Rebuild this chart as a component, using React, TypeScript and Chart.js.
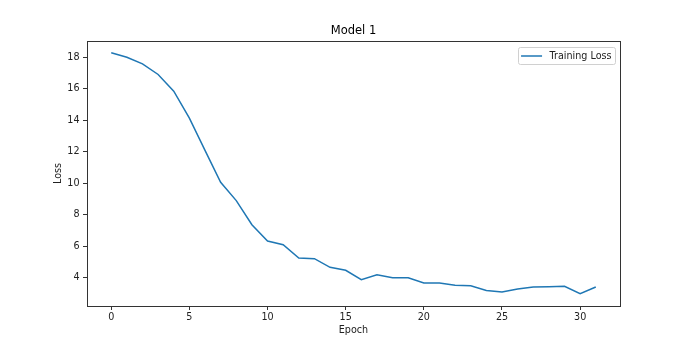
import React, { useEffect, useRef } from "react";
import { Chart, registerables } from "chart.js";

Chart.register(...registerables);

const epochs: number[] = Array.from({ length: 32 }, (_, i) => i);
const trainingLoss: number[] = [
  18.3, 18.02, 17.6, 16.92, 15.86, 14.15, 12.1, 10.07, 8.9, 7.37,
  6.33, 6.1, 5.25, 5.21, 4.66, 4.47, 3.87, 4.19, 4.0, 4.0,
  3.66, 3.66, 3.52, 3.49, 3.19, 3.09, 3.28, 3.41, 3.43, 3.45,
  2.98, 3.41,
];
const xTickValues: number[] = [0, 5, 10, 15, 20, 25, 30];
const yTickValues: number[] = [4, 6, 8, 10, 12, 14, 16, 18];
const seriesLabel = "Training Loss";
const chartTitle = "Model 1";
const xLabel = "Epoch";
const yLabel = "Loss";

const FONT = "'DejaVu Sans', sans-serif";
const LINE_COLOR = "#1f77b4";
const FS = 9.6;

const framePlugin = {
  id: "frame",
  afterDatasetsDraw(chart: any) {
    const { ctx, chartArea } = chart;
    ctx.save();
    ctx.strokeStyle = "#333";
    ctx.lineWidth = 1;
    ctx.strokeRect(
      Math.round(chartArea.left) + 0.5,
      Math.round(chartArea.top) + 0.5,
      Math.round(chartArea.right - chartArea.left),
      Math.round(chartArea.bottom - chartArea.top)
    );
    ctx.restore();
  },
};

const legendPlugin = {
  id: "mplLegend",
  afterDraw(chart: any) {
    const { ctx, chartArea } = chart;
    ctx.save();
    ctx.font = `${FS}px ${FONT}`;
    const textW = ctx.measureText(seriesLabel).width;
    const w = 3 + 21 + 7.5 + textW + 3.5;
    const h = 17;
    const x = chartArea.right - 5 - w;
    const y = chartArea.top + 5.5;
    ctx.fillStyle = "rgba(255,255,255,0.8)";
    ctx.strokeStyle = "#d0d0d0";
    ctx.lineWidth = 1;
    ctx.beginPath();
    (ctx as any).roundRect(Math.round(x) + 0.5, Math.round(y) + 0.5, Math.round(w), h, 2);
    ctx.fill();
    ctx.stroke();
    const cy = Math.round(y) + 0.5 + h / 2;
    ctx.strokeStyle = LINE_COLOR;
    ctx.lineWidth = 1.5;
    ctx.beginPath();
    ctx.moveTo(x + 3, cy);
    ctx.lineTo(x + 3 + 21, cy);
    ctx.stroke();
    ctx.fillStyle = "#222";
    ctx.textBaseline = "middle";
    ctx.textAlign = "left";
    ctx.fillText(seriesLabel, x + 3 + 21 + 7.5, cy);
    ctx.restore();
  },
};

export default function App() {
  const canvasRef = useRef<HTMLCanvasElement | null>(null);

  useEffect(() => {
    document.body.style.margin = "0";
    const canvas = canvasRef.current;
    if (!canvas) return;
    const chart = new Chart(canvas, {
      type: "line",
      data: {
        datasets: [
          {
            label: seriesLabel,
            data: epochs.map((e, i) => ({ x: e, y: trainingLoss[i] })),
            borderColor: LINE_COLOR,
            backgroundColor: LINE_COLOR,
            borderWidth: 1.5,
            pointRadius: 0,
            tension: 0,
            fill: false,
          },
        ],
      },
      options: {
        responsive: false,
        animation: false,
        devicePixelRatio: 1,
        layout: { padding: { left: 0, right: 69, top: 0, bottom: 0 } },
        plugins: {
          legend: { display: false },
          tooltip: { enabled: false },
          title: {
            display: true,
            text: chartTitle,
            fullSize: false,
            color: "#000",
            font: { family: FONT, size: 11.5, weight: "normal" },
            padding: { top: 24.5, bottom: 2.7 },
          },
        },
        scales: {
          x: {
            type: "linear",
            min: -1.55,
            max: 32.55,
            afterBuildTicks: (scale: any) => {
              scale.ticks = xTickValues.map((v) => ({ value: v }));
            },
            afterFit: (scale: any) => {
              scale.height = 38;
            },
            grid: {
              drawOnChartArea: false,
              drawTicks: true,
              tickLength: 4,
              color: "#333",
            },
            border: { display: false },
            ticks: {
              color: "#222",
              font: { family: FONT, size: FS },
              padding: 1.5,
              maxRotation: 0,
              autoSkip: false,
            },
            title: {
              display: true,
              text: xLabel,
              color: "#222",
              font: { family: FONT, size: FS },
              padding: { top: 0, bottom: 8 },
            },
          },
          y: {
            type: "linear",
            min: 2.2,
            max: 19.05,
            afterBuildTicks: (scale: any) => {
              scale.ticks = yTickValues.map((v) => ({ value: v }));
            },
            afterFit: (scale: any) => {
              scale.width = 87;
            },
            grid: {
              drawOnChartArea: false,
              drawTicks: true,
              tickLength: 4,
              color: "#333",
            },
            border: { display: false },
            ticks: {
              color: "#222",
              font: { family: FONT, size: FS },
              padding: 3.5,
              autoSkip: false,
            },
            title: {
              display: true,
              text: yLabel,
              color: "#222",
              font: { family: FONT, size: FS },
              padding: { top: 52.5, bottom: 0 },
            },
          },
        },
      },
      plugins: [framePlugin, legendPlugin],
    } as any);
    return () => chart.destroy();
  }, []);

  return (
    <div style={{ width: 689, height: 344, background: "#fff" }}>
      <canvas ref={canvasRef} width={689} height={344} style={{ display: "block" }} />
    </div>
  );
}
